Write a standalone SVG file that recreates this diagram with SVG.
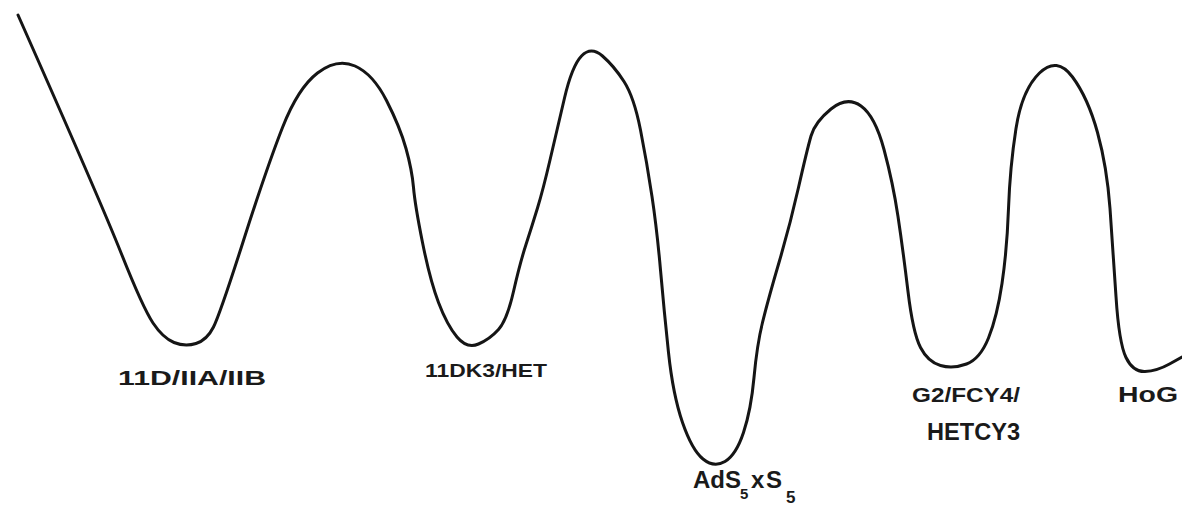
<svg xmlns="http://www.w3.org/2000/svg" width="1182" height="507" viewBox="0 0 1182 507">
<style>
.curve{fill:none;stroke:#151515;stroke-width:3;stroke-linecap:round;stroke-linejoin:round}
.lbl{font-family:"Liberation Sans",Arial,sans-serif;font-weight:bold;fill:#1a1a1a}
</style>
<rect width="1182" height="507" fill="#ffffff"/>
<g id="curve">
<path class="curve" d="M18,15 Q100,200 121.5,254 Q143,308 153,323 Q163,338 174,342.5 Q185,347 196,343.5 Q207,340 213.5,327 Q220,314 243.5,240.5 Q267,167 282.5,127.5 Q298,88 317.5,73 Q337,58 355,66 Q373,74 386.5,100.5 Q400,127 406,148.5 Q412,170 413.5,187.5 Q415,205 422.5,242.5 Q430,280 438.5,302.5 Q447,325 457,337 Q467,349 478.5,344 Q490,339 498.5,329.5 Q507,320 513.5,291.5 Q520,263 526,244.5 Q532,226 537.5,208 Q543,190 550,160 Q557,130 564.5,98 Q572,66 581.5,56 Q591,46 602.5,56 Q614,66 624,81.5 Q634,97 640.5,130 Q647,163 652,196.5 Q657,230 660.5,270 Q664,310 668.5,352.5 Q673,395 682.5,422.5 Q692,450 703,459 Q714,468 725,461.5 Q736,455 743.5,432.5 Q751,410 754,377.5 Q757,345 762.5,322.5 Q768,300 779,262.5 Q790,225 798.5,187.5 Q807,150 811,136 Q815,122 831,109 Q847,96 861,106 Q875,116 884,149.5 Q893,183 898,216.5 Q903,250 908,291.5 Q913,333 920.5,347.5 Q928,362 940.5,365.5 Q953,369 966.5,364 Q980,359 988.5,338 Q997,317 1002,283.5 Q1007,250 1008.5,208.5 Q1010,167 1016,128.5 Q1022,90 1039.5,73 Q1057,56 1072.5,77 Q1088,98 1097.5,132.5 Q1107,167 1110,208.5 Q1113,250 1116,296.5 Q1119,343 1126,357.5 Q1133,372 1145,371.5 Q1157,371 1169.5,364 L1182,357"/>
</g>
<g id="label-11d">
<text class="lbl" x="118" y="385" font-size="20" textLength="148" lengthAdjust="spacingAndGlyphs">11D/IIA/IIB</text>
</g>
<g id="label-k3">
<text class="lbl" x="425" y="377" font-size="19" textLength="122" lengthAdjust="spacingAndGlyphs">11DK3/HET</text>
</g>
<g id="label-ads">
<text class="lbl" font-size="24"><tspan x="693" y="488">AdS</tspan><tspan x="740" y="499" font-size="15">5</tspan><tspan x="751" y="488">x</tspan><tspan x="766" y="488">S</tspan><tspan x="786" y="503" font-size="17">5</tspan></text>
</g>
<g id="label-g2">
<text class="lbl" x="912" y="402" font-size="20" textLength="108" lengthAdjust="spacingAndGlyphs">G2/FCY4/</text>
<text class="lbl" x="927" y="440" font-size="24" textLength="93" lengthAdjust="spacingAndGlyphs">HETCY3</text>
</g>
<g id="label-hog">
<text class="lbl" x="1118" y="402" font-size="22" textLength="60" lengthAdjust="spacingAndGlyphs">HoG</text>
</g>
</svg>
